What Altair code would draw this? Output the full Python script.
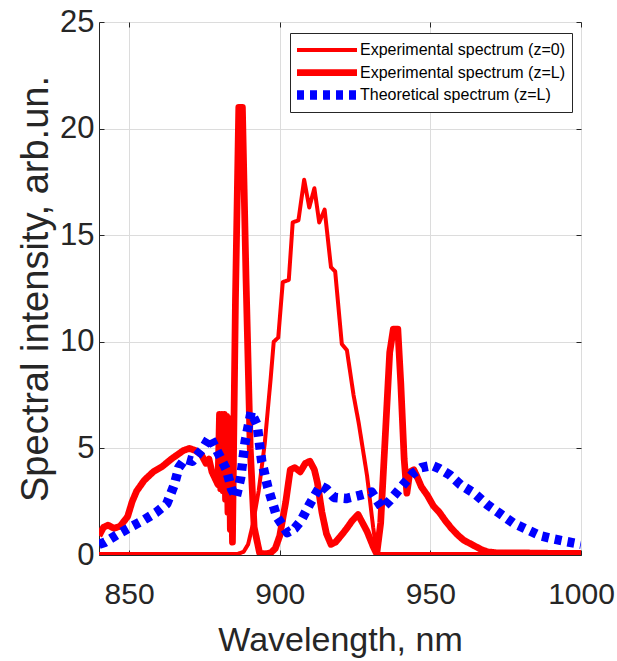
import altair as alt
import pandas as pd

# ---- data ----
thin_x = [840, 860, 880, 886, 888, 889.5, 891, 893, 895, 897, 898, 899.5, 901, 903,
          904.3, 906.2, 908.1, 909.8, 911.5, 913.1, 914.9, 917, 918.4, 920.6, 922.3,
          924.5, 926.2, 929, 931, 932.3, 950, 1000]
thin_y = [0.05, 0.05, 0.05, 0.05, 0.15, 0.5, 1.4, 3.0, 5.2, 8.3, 10.0, 10.2, 12.8, 12.9,
          15.6, 15.7, 17.6, 16.3, 17.2, 15.6, 16.2, 13.5, 13.3, 9.9, 9.6,
          7.5, 6.2, 3.7, 1.3, 0.05, 0.05, 0.05]

thick_x = [840, 841.5, 843, 845, 847, 849.5, 851, 852.5, 855, 858, 861, 864, 866, 868, 870,
           872, 874, 875.5, 876.5, 877.5, 878.5, 879.5, 880.0, 880.4, 880.8, 881.2, 881.6,
           882.0, 882.4, 882.8, 883.2, 883.6, 884.0, 884.3, 885.3, 886.4, 887.6, 888.8,
           890.2, 891.5, 893.3, 895, 897,
           898.5, 900, 902, 903.5, 905, 906.8, 908.5, 910, 911.5, 912.5, 914, 915.5, 917,
           918.5, 920, 922, 924, 926, 927.5, 929, 931, 932.2, 933.5, 935, 936.5, 937.7,
           939.2, 940.2, 941.3, 942.2, 943.2, 944.5, 945.5, 947, 949, 951, 953, 955, 957,
           959, 961, 963, 965, 967, 969, 972, 980, 990, 1000]
thick_y = [0.9, 1.3, 1.4, 1.25, 1.35, 1.8, 2.5, 3.0, 3.5, 3.9, 4.15, 4.5, 4.7, 4.9, 5.0,
           4.9, 4.7, 4.3, 4.5, 3.9, 3.6, 3.3, 6.6, 3.1, 6.6, 3.0, 6.6,
           2.6, 6.5, 2.0, 6.4, 1.2, 6.2, 0.6, 12.0, 21.0, 21.0, 13.0,
           5.0, 1.3, 0.1, 0.05, 0.1,
           0.3, 0.9, 2.5, 4.0, 4.1, 3.9, 4.3, 4.4, 4.0, 3.4, 2.0, 1.0, 0.5,
           0.6, 0.85, 1.2, 1.6, 1.9, 1.5, 1.1, 0.4, 0.05, 1.5, 5.5, 9.5, 10.6,
           10.6, 8.0, 4.5, 2.9, 3.9, 4.0, 3.7, 3.2, 2.8, 2.3, 2.0, 1.6, 1.25,
           0.95, 0.7, 0.55, 0.4, 0.25, 0.15, 0.1, 0.1, 0.08, 0.08]

theo_x = [840, 842, 846, 851, 855, 859, 862.5, 865, 866.5, 868.5, 871, 874.5, 876.8, 879.5,
          882.3, 884, 885.5, 887, 888.5, 890.5, 892.5, 894, 896, 899, 902.5, 905, 907, 910,
          913.5, 915.5, 918, 922, 926.5, 930.5, 934, 936.5, 941, 944, 947, 950.5, 953,
          956.5, 960, 964.5, 969, 973, 977.5, 982, 986.5, 991, 995.5, 1000]
theo_y = [0.5, 0.6, 0.95, 1.35, 1.65, 2.0, 2.4, 3.3, 4.1, 4.5, 4.4, 5.0, 5.55, 4.8,
          4.0, 3.1, 2.7, 3.6, 5.3, 6.7, 6.1, 4.4, 3.2, 1.8, 1.05, 1.25, 1.6, 2.4,
          3.25, 3.1, 2.7, 2.65, 2.8, 2.95, 2.2, 2.55, 3.3, 3.8, 4.1, 4.2, 4.05,
          3.75, 3.3, 2.9, 2.35, 1.95, 1.5, 1.2, 0.9, 0.75, 0.62, 0.5]

series = ["Experimental spectrum (z=0)", "Experimental spectrum (z=L)",
          "Theoretical spectrum (z=L)"]
colors = ["#ff0000", "#ff0000", "#0000ff"]
widths = [4, 9.5, 6.5]
dashes = [[1, 0], [1, 0], [7, 6]]

x_ticks = [850, 900, 950, 1000]
y_ticks = [0, 5, 10, 15, 20, 25]

frames = []
for name, xs, ys in zip(series, [thin_x, thick_x, theo_x], [thin_y, thick_y, theo_y]):
    frames.append(pd.DataFrame({"wl": xs, "val": ys, "series": name}))
df = pd.concat(frames, ignore_index=True)

W, H = 482, 533
FONT = "Liberation Sans, Arial, Helvetica, sans-serif"
DARK = "#262626"

xscale = alt.Scale(domain=[840, 1000], nice=False, zero=False)
yscale = alt.Scale(domain=[0, 25], nice=False)

color = alt.Color("series:N", scale=alt.Scale(domain=series, range=colors),
                  legend=alt.Legend(title=None, orient="none", legendX=191, legendY=11,
                                    symbolType="M-8,0H52", symbolSize=4, clipHeight=20,
                                    labelFontSize=16, labelFont=FONT, labelColor="#000000",
                                    labelLimit=400, labelOffset=47,
                                    strokeColor=DARK, fillColor="#ffffff",
                                    padding=7, rowPadding=2.5))
swidth = alt.StrokeWidth("series:N", scale=alt.Scale(domain=series, range=widths),
                         legend=alt.Legend(title=None))
sdash = alt.StrokeDash("series:N", scale=alt.Scale(domain=series, range=dashes),
                       legend=alt.Legend(title=None))

main_x = alt.Axis(values=x_ticks, format="d", grid=True, gridColor="#dcdcdc",
                  ticks=False, tickSize=0, domainColor=DARK, labelColor=DARK,
                  labelFontSize=30, labelFont=FONT, labelBaseline="alphabetic",
                  labelPadding=48, labelFlush=False, labelOverlap=False,
                  title="Wavelength, nm", titleFontSize=34, titleFont=FONT,
                  titleFontWeight="normal", titleColor=DARK, titleX=W / 2, titleY=95,
                  titleBaseline="alphabetic", titleAlign="center")
main_y = alt.Axis(values=y_ticks, grid=True, gridColor="#dcdcdc", ticks=False, tickSize=0,
                  domainColor=DARK, labelColor=DARK, labelFontSize=31, labelFont=FONT,
                  labelPadding=5, labelFlush=False, labelOverlap=False,
                  title="Spectral intensity, arb.un.", titleFontSize=38, titleFont=FONT,
                  titleFontWeight="normal", titleColor=DARK, titleX=-52, titleY=H / 2,
                  titleAngle=-90, titleBaseline="alphabetic", titleAlign="center")

tick_x_bottom = alt.Axis(values=x_ticks, orient="top", offset=-H, labels=False, grid=False,
                         domain=False, ticks=True, tickSize=5, tickColor=DARK, title=None)
tick_y_left = alt.Axis(values=y_ticks, orient="right", offset=-W, labels=False, grid=False,
                       domain=False, ticks=True, tickSize=5, tickColor=DARK, title=None)
tick_x_top = alt.Axis(values=x_ticks, orient="bottom", offset=-H, labels=False, grid=False,
                      domain=False, ticks=True, tickSize=5, tickColor=DARK, title=None)
tick_y_right = alt.Axis(values=y_ticks, orient="left", offset=-W, labels=False, grid=False,
                        domain=False, ticks=True, tickSize=5, tickColor=DARK, title=None)


def layer(name, xaxis, yaxis):
    return alt.Chart(df).transform_filter(alt.datum.series == name).mark_line(
        clip=True, strokeCap="butt", strokeJoin="round"
    ).encode(
        x=alt.X("wl:Q", scale=xscale, axis=xaxis),
        y=alt.Y("val:Q", scale=yscale, axis=yaxis),
        color=color, strokeWidth=swidth, strokeDash=sdash,
        order=alt.Order("wl:Q"),
    )


chart = alt.layer(
    layer(series[0], main_x, main_y),
    layer(series[1], tick_x_bottom, tick_y_left),
    layer(series[2], tick_x_top, tick_y_right),
).resolve_axis(x="independent", y="independent").properties(
    width=W, height=H,
    autosize=alt.AutoSizeParams(type="none"),
    padding={"left": 99, "top": 22, "right": 36, "bottom": 106},
).configure_view(stroke=DARK, strokeWidth=1).configure(background="#ffffff")

chart.save("out.html", embed_options={"renderer": "svg", "actions": False})
